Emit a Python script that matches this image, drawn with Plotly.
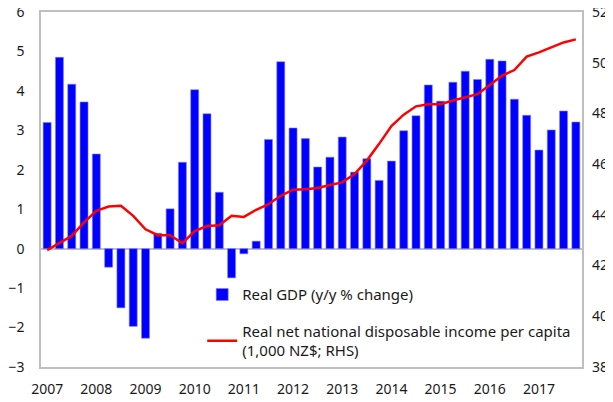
import plotly.graph_objects as go

years = list(range(2007, 2018))
quarters = [f"{y}Q{q}" for y in years for q in range(1, 5)]
year_ticks = [f"{y}Q1" for y in years]
year_labels = [str(y) for y in years]

gdp = [3.2, 4.85, 4.17, 3.72, 2.4, -0.47, -1.5, -1.97,
       -2.27, 0.39, 1.01, 2.19, 4.03, 3.42, 1.43, -0.74,
       -0.13, 0.19, 2.77, 4.74, 3.06, 2.79, 2.07, 2.32,
       2.83, 1.94, 2.28, 1.73, 2.22, 2.99, 3.37, 4.15,
       3.74, 4.22, 4.5, 4.29, 4.8, 4.76, 3.79, 3.38,
       2.5, 3.01, 3.49, 3.21]

income = [42.61, 42.9, 43.17, 43.7, 44.16, 44.33, 44.36, 43.96,
          43.43, 43.2, 43.2, 42.88, 43.36, 43.56, 43.59, 43.96,
          43.92, 44.2, 44.42, 44.75, 44.99, 45.01, 45.06, 45.18,
          45.28, 45.61, 46.14, 46.8, 47.5, 47.95, 48.28, 48.36,
          48.36, 48.51, 48.63, 48.76, 49.12, 49.49, 49.71, 50.24,
          50.41, 50.61, 50.8, 50.92]

fig = go.Figure()
fig.add_trace(go.Bar(
    x=quarters, y=gdp, name="Real GDP (y/y % change)",
    marker=dict(color="#0000FF", line=dict(color="#8080FF", width=0.6)),
    yaxis="y", legendgroup="a"))
fig.add_trace(go.Scatter(
    x=quarters, y=income, mode="lines",
    name="Real net national disposable income per capita<br>(1,000 NZ$; RHS)",
    line=dict(color="#FF0000", width=2.5), yaxis="y2", legendgroup="b"))

# page body has an 8px default margin, so the figure is sized to fill the rest
fig.update_layout(
    width=605, height=394,
    margin=dict(l=33, r=31, t=4, b=35),
    paper_bgcolor="white", plot_bgcolor="white",
    font=dict(family="Noto Sans", size=14, color="#1a1a1a"),
    bargap=0.35,
    showlegend=True,
    legend=dict(x=0.298, y=0.25, xanchor="left", yanchor="top",
                bgcolor="rgba(0,0,0,0)", font=dict(size=15),
                tracegroupgap=14, itemwidth=30),
    xaxis=dict(type="category", tickvals=year_ticks, ticktext=year_labels,
               showgrid=False, showline=True, linecolor="#BFBFBF", linewidth=1.5,
               mirror=True, ticks="", ticklabelstandoff=8, automargin=False,
               ticklabeloverflow="allow"),
    yaxis=dict(range=[-3, 6], dtick=1, showgrid=False, zeroline=True,
               zerolinecolor="#BFBFBF", zerolinewidth=1.5,
               showline=True, linecolor="#BFBFBF", linewidth=1.5, mirror=True,
               ticks="", ticklabelstandoff=12, automargin=False,
               ticklabeloverflow="allow"),
    yaxis2=dict(range=[38, 52], dtick=2, overlaying="y", side="right",
                showgrid=False, zeroline=False, showline=False,
                ticks="", ticklabelstandoff=9, automargin=False,
                ticklabeloverflow="allow"),
)

fig.write_html("out.html")
